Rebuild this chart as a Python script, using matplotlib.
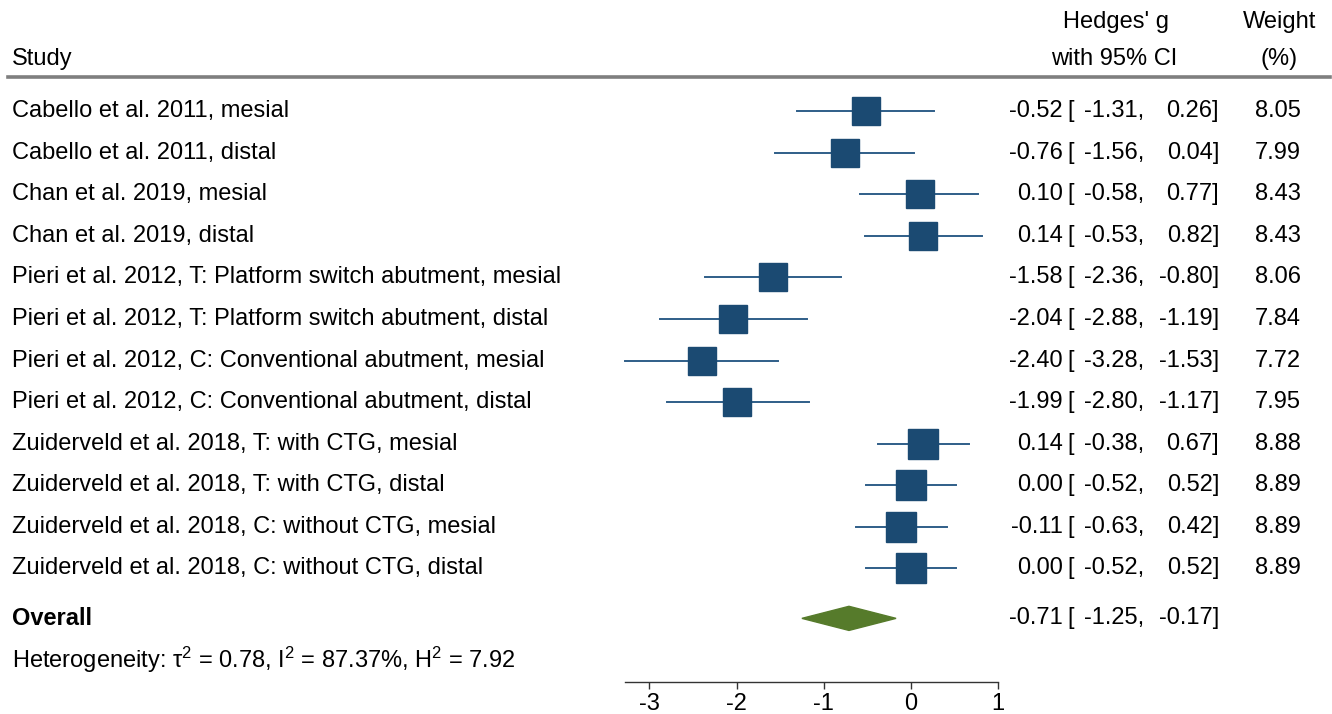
import numpy as np
import matplotlib
matplotlib.use("Agg")
import matplotlib.pyplot as plt
from matplotlib.transforms import blended_transform_factory

plt.rcParams['font.family'] = ['Liberation Sans', 'DejaVu Sans']
plt.rcParams['axes.unicode_minus'] = False
plt.rcParams['mathtext.fontset'] = 'custom'
plt.rcParams['mathtext.rm'] = 'Liberation Sans'
plt.rcParams['mathtext.it'] = 'Liberation Sans'

studies = ["Cabello et al. 2011, mesial",
           "Cabello et al. 2011, distal",
           "Chan et al. 2019, mesial",
           "Chan et al. 2019, distal",
           "Pieri et al. 2012, T: Platform switch abutment, mesial",
           "Pieri et al. 2012, T: Platform switch abutment, distal",
           "Pieri et al. 2012, C: Conventional abutment, mesial",
           "Pieri et al. 2012, C: Conventional abutment, distal",
           "Zuiderveld et al. 2018, T: with CTG, mesial",
           "Zuiderveld et al. 2018, T: with CTG, distal",
           "Zuiderveld et al. 2018, C: without CTG, mesial",
           "Zuiderveld et al. 2018, C: without CTG, distal"]
g = [-0.52, -0.76, 0.10, 0.14, -1.58, -2.04, -2.40, -1.99, 0.14, 0.00, -0.11, 0.00]
lo = [-1.31, -1.56, -0.58, -0.53, -2.36, -2.88, -3.28, -2.80, -0.38, -0.52, -0.63, -0.52]
hi = [0.26, 0.04, 0.77, 0.82, -0.80, -1.19, -1.53, -1.17, 0.67, 0.52, 0.42, 0.52]
weight = [8.05, 7.99, 8.43, 8.43, 8.06, 7.84, 7.72, 7.95, 8.88, 8.89, 8.89, 8.89]

overall_g, overall_lo, overall_hi = -0.71, -1.25, -0.17
het_text = r"Heterogeneity: τ$^{\mathregular{2}}$ = 0.78, I$^{\mathregular{2}}$ = 87.37%, H$^{\mathregular{2}}$ = 7.92"
xticks = [-3, -2, -1, 0, 1]

W, H = 1332, 714
fig = plt.figure(figsize=(W / 100, H / 100), dpi=100)
# axes spans exactly the x-axis line of the plot (from min CI to 1)
x0 = 625 / W
x1 = 998 / W
ax = fig.add_axes([x0, 32 / H, x1 - x0, 1 - 32 / H])
ax.set_xlim(min(lo), 1)
# rows: row i sits at pixel 111 + 41.64*i
ax.set_ylim(13.73, -2.668)
for s in ['top', 'left', 'right']:
    ax.spines[s].set_visible(False)
ax.spines['bottom'].set_linewidth(1.0)
ax.spines['bottom'].set_color('#333333')
ax.set_yticks([])
ax.set_xticks(xticks)
ax.tick_params(axis='x', length=5, width=1, color='#333333', labelsize=17, pad=3)

box_col = '#1b4a72'
line_col = '#2f5e88'
n = len(studies)
rows = np.arange(n)
for i in range(n):
    ax.plot([lo[i], hi[i]], [rows[i], rows[i]], color=line_col, lw=1.4, clip_on=False, zorder=2)
    ax.plot(g[i], rows[i], marker='s', color=box_col, markersize=20 * np.sqrt(weight[i] / 8.05),
            clip_on=False, zorder=3)

ov_row = 12.2
dh = 0.29
ax.fill([overall_lo, overall_g, overall_hi, overall_g], [ov_row, ov_row - dh, ov_row, ov_row + dh],
        color='#567b2b', clip_on=False, zorder=3)

tr = blended_transform_factory(fig.transFigure, ax.transData)
fs = 17

def px(x):
    return x / W

# header
ax.text(px(12), -1.25, "Study", transform=tr, fontsize=fs, va='center', ha='left')
ax.text(px(1116), -2.14, "Hedges' g", transform=tr, fontsize=fs, va='center', ha='center')
ax.text(px(1114), -1.25, "with 95% CI", transform=tr, fontsize=fs, va='center', ha='center')
ax.text(px(1280), -2.14, "Weight", transform=tr, fontsize=fs, va='center', ha='center')
ax.text(px(1279), -1.25, "(%)", transform=tr, fontsize=fs, va='center', ha='center')
ax.plot([px(8), px(1330)], [-0.82, -0.82], transform=tr, color='#7f7f7f', lw=2.6, clip_on=False)

for i in range(n):
    ax.text(px(12), rows[i], studies[i], transform=tr, fontsize=fs, va='center', ha='left')
    ax.text(px(1063), rows[i], f"{g[i]:.2f}", transform=tr, fontsize=fs, va='center', ha='right')
    ax.text(px(1067), rows[i], "[", transform=tr, fontsize=fs, va='center', ha='left')
    ax.text(px(1144), rows[i], f"{lo[i]:.2f},", transform=tr, fontsize=fs, va='center', ha='right')
    ax.text(px(1219), rows[i], f"{hi[i]:.2f}]", transform=tr, fontsize=fs, va='center', ha='right')
    ax.text(px(1301), rows[i], f"{weight[i]:.2f}", transform=tr, fontsize=fs, va='center', ha='right')

ax.text(px(12), ov_row, "Overall", transform=tr, fontsize=fs, va='center', ha='left', fontweight='bold')
ax.text(px(1063), ov_row, f"{overall_g:.2f}", transform=tr, fontsize=fs, va='center', ha='right')
ax.text(px(1067), ov_row, "[", transform=tr, fontsize=fs, va='center', ha='left')
ax.text(px(1144), ov_row, f"{overall_lo:.2f},", transform=tr, fontsize=fs, va='center', ha='right')
ax.text(px(1219), ov_row, f"{overall_hi:.2f}]", transform=tr, fontsize=fs, va='center', ha='right')

ax.text(px(12), 13.21, het_text, transform=tr, fontsize=fs, va='center', ha='left')

fig.savefig("out.png", dpi=100)
